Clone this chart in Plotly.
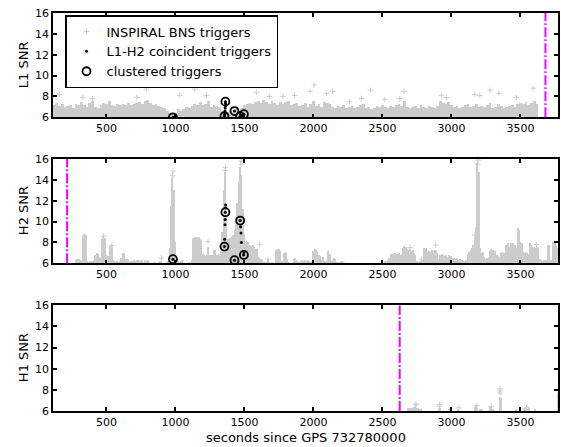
import numpy as np
import plotly.graph_objects as go

# ---------------- data ----------------
# L1 trigger envelope, 20 s bins starting at 120 s
l1_bin0, l1_step = 120, 20
l1_snr = [
    7.2, 7.4, 7.1, 7.3, 7.0, 7.1, 7.2, 6.9, 7.3, 7.2,
    7.5, 7.2, 7.0, 7.4, 7.6, 7.0, 6.9, 7.2, 7.4, 7.3,
    7.6, 7.2, 7.1, 7.3, 7.2, 7.3, 7.2, 7.4, 7.2, 7.3,
    7.4, 7.5, 7.3, 7.6, 7.7, 7.4, 7.2, 7.3, 7.1, 7.0,
    6.9, 6.6, 6.4, 6.3, 6.4, 6.8, 6.6, 6.8, 7.0, 6.9,
    7.1, 7.3, 7.2, 7.5, 7.2, 7.3, 7.6, 7.0, 7.2, 7.1,
    7.0, 6.6, 6.4, 6.5, 6.6, 6.5, 6.8, 6.6, 6.9, 7.2,
    7.3, 7.4, 7.3, 7.5, 7.6, 7.4, 7.7, 7.5, 7.3, 7.6,
    7.4, 7.2, 7.5, 7.3, 7.5, 7.6, 7.2, 7.3, 7.4, 7.1,
    7.2, 7.4, 7.0, 7.3, 7.6, 7.1, 7.3, 7.0, 7.5, 7.4,
    7.3, 7.0, 6.9, 7.1, 7.0, 7.2, 6.9, 7.0, 7.1, 6.9,
    7.0, 7.2, 7.3, 6.9, 7.0, 6.8, 6.9, 7.1, 7.0, 7.2,
    7.0, 6.9, 7.1, 7.0, 7.2, 7.3, 7.1, 7.6, 7.0, 6.9,
    7.0, 7.1, 6.9, 7.2, 7.0, 6.9, 7.1, 7.0, 6.9, 7.1,
    7.6, 7.4, 7.3, 7.5, 7.2, 7.0, 7.1, 6.9, 7.0, 7.2,
    7.3, 7.0, 7.1, 7.3, 7.0, 7.1, 7.0, 7.2, 7.4, 6.9,
    7.0, 7.3, 7.1, 6.9, 7.0, 7.1, 7.2, 7.0, 7.3, 7.4,
    7.3, 7.5, 7.2, 7.4, 7.6, 7.3,
]
l1_out_t = [161, 330, 400, 720, 789, 1031, 1140, 1225, 1586, 1680, 1780, 1864,
            1975, 2005, 2094, 2138, 2262, 2347, 2413, 2517, 2625, 2657, 2927,
            2963, 3170, 3205, 3280, 3343, 3470, 3592]
l1_out_snr = [8.2, 7.9, 7.8, 7.9, 8.7, 8.1, 8.7, 8.1, 8.4, 8.0, 8.0, 8.1,
              8.5, 9.1, 8.3, 8.5, 7.5, 7.8, 8.6, 7.7, 7.8, 8.5, 8.1,
              7.9, 8.2, 8.1, 8.6, 8.3, 7.9, 8.8]

# H2 trigger envelope, 10 s bins starting at 120 s
h2_bin0, h2_step = 120, 10
h2_snr = [
    6.0, 6.0, 6.0, 6.0, 6.0, 6.0, 6.0, 6.0, 6.0, 6.0, 6.0, 6.0, 6.0, 6.0, 6.0, 6.0, 6.3, 6.4, 6.4, 6.3,
    6.2, 8.6, 8.8, 8.7, 6.2, 6.1, 6.2, 6.1, 6.2, 6.3, 6.8, 7.0, 6.9, 6.6, 6.5, 8.3, 8.55, 8.4, 6.8, 6.7,
    6.5, 7.66, 7.6, 6.3, 6.2, 6.1, 6.2, 6.1, 6.2, 6.5, 7.0, 6.9, 6.4, 6.3, 6.4, 6.2, 6.1, 6.2, 6.3, 6.2,
    6.3, 6.1, 6.3, 6.2, 6.3, 6.1, 6.3, 6.2, 6.3, 6.1, 6.0, 6.0, 6.0, 6.1, 6.0, 6.0, 6.1, 6.2, 6.2, 6.0,
    6.0, 6.0, 6.1, 6.2, 7.5, 11.5, 14.3, 13.0, 8.0, 6.4, 6.2, 6.1, 6.2, 6.3, 6.0, 6.0, 6.0, 6.0, 6.1, 6.0,
    6.3, 8.4, 8.55, 8.5, 8.55, 8.5, 8.3, 8.2, 6.9, 6.8, 6.7, 6.8, 7.6, 6.8, 6.7, 6.8, 7.3, 7.3, 6.8, 6.8,
    6.9, 7.2, 9.0, 13.0, 14.8, 10.5, 8.3, 8.2, 8.4, 8.5, 8.7, 9.3, 10.0, 11.8, 13.8, 15.2, 14.5, 11.2, 8.8, 8.1,
    8.0, 8.0, 7.75, 7.7, 7.75, 7.6, 7.4, 7.4, 6.6, 6.5, 6.4, 6.3, 6.1, 6.1, 6.1, 6.4, 6.1, 6.0, 6.1, 6.0,
    6.0, 7.3, 7.4, 7.4, 7.2, 6.2, 6.1, 7.0, 7.05, 6.4, 6.1, 6.0, 6.0, 6.1, 6.4, 6.5, 6.3, 6.0, 6.1, 6.2,
    6.3, 6.2, 6.3, 6.2, 6.3, 6.2, 6.1, 6.2, 7.2, 7.4, 7.3, 7.1, 6.8, 6.7, 6.3, 6.6, 6.2, 6.1, 6.2, 7.2,
    6.9, 6.2, 6.3, 6.5, 6.4, 6.1, 6.0, 6.1, 6.2, 6.2, 6.1, 6.0, 6.0, 6.0, 6.0, 6.0, 6.0, 6.0, 6.0, 6.0,
    6.0, 6.0, 6.0, 6.0, 6.0, 6.0, 6.0, 6.0, 6.0, 6.0, 6.0, 6.0, 6.0, 6.0, 6.0, 6.0, 6.0, 6.0, 6.0, 6.1,
    6.2, 6.2, 6.3, 6.5, 6.9, 6.6, 6.9, 7.0, 6.8, 6.9, 7.0, 6.8, 6.9, 7.5, 7.7, 7.6, 7.4, 7.3, 7.4, 7.2,
    7.3, 7.0, 6.8, 6.2, 6.1, 6.2, 6.1, 6.3, 7.5, 7.4, 7.5, 7.1, 7.2, 7.1, 7.3, 7.2, 7.3, 7.2, 7.0, 6.4,
    6.8, 6.9, 6.8, 6.7, 6.8, 6.6, 6.8, 6.7, 6.7, 6.5, 6.5, 6.4, 6.5, 6.3, 6.4, 6.2, 6.3, 6.2, 6.1, 6.3,
    6.9, 7.1, 7.3, 7.5, 7.8, 8.4, 9.5, 15.6, 14.8, 7.5, 7.0, 7.1, 6.6, 6.4, 6.5, 6.6, 7.3, 7.4, 7.3, 7.2,
    7.2, 6.8, 6.7, 6.6, 7.0, 7.1, 7.0, 6.8, 7.8, 7.9, 7.6, 7.9, 7.7, 7.9, 7.8, 7.5, 9.35, 9.2, 8.0, 7.9,
    7.1, 7.0, 7.1, 7.0, 6.9, 7.9, 7.8, 7.6, 7.6, 7.5, 7.6, 7.5, 6.4, 6.3, 6.2, 6.3, 6.2, 6.3, 7.7, 7.8,
    6.3, 6.2, 8.0, 7.9, 7.8, 7.5,
]
h2_out_t = [983, 980, 1362, 1360, 1473, 1475, 3193, 3190, 1236, 898, 2886, 2700,
            3616, 3169, 1671, 1610, 540, 480, 2785]
h2_out_snr = [14.85, 14.4, 15.2, 14.9, 15.8, 15.5, 15.9, 15.5, 8.1, 6.5, 7.75, 7.5,
              7.8, 8.7, 6.4, 7.8, 7.7, 8.6, 6.4]

# H1 triggers (sparse), 10 s bins
h1_t = [2690, 2700, 2710, 2720, 2730, 2740, 2750, 2760, 2770, 2780, 2910, 2920,
        2980, 3050, 3170, 3180, 3190, 3210, 3220, 3280, 3290, 3300, 3350, 3360,
        3470, 3530, 3540, 3550, 3560, 3610, 3770]
h1_snr = [6.3, 6.3, 6.25, 6.3, 6.35, 6.4, 6.3, 6.3, 6.15, 6.15, 6.3, 6.25,
          6.15, 6.2, 6.35, 6.4, 6.3, 6.15, 6.1, 6.4, 6.35, 6.15, 7.3, 7.2,
          6.15, 6.25, 6.3, 6.2, 6.3, 6.1, 7.65]
h1_step = 10
h1_out_t = [2740, 2745, 2915, 2912, 3055, 3185, 3352, 3352, 3352, 3290, 3545]
h1_out_snr = [6.6, 6.65, 6.6, 6.45, 6.3, 6.5, 7.7, 8.1, 7.9, 6.45, 6.35]

# L1-H2 coincident triggers
coinc_t = [982, 1355, 1357, 1359, 1360, 1362, 1363, 1364, 1428, 1469, 1472, 1475, 1478, 1494, 1496]
coinc_l1 = [6.0, 6.1, 6.3, 6.6, 6.9, 7.5, 7.3, 7.1, 6.6, 6.1, 6.15, 6.2, 6.1, 6.3, 6.25]
coinc_h2 = [6.4, 7.6, 8.3, 9.7, 10.2, 10.9, 11.3, 11.6, 6.3, 10.1, 9.5, 8.9, 8.0, 6.8, 7.0]

# clustered triggers
clust_t = [982, 1355, 1362, 1428, 1469, 1496]
clust_l1 = [6.0, 6.1, 7.5, 6.6, 6.1, 6.3]
clust_h2 = [6.4, 7.6, 10.9, 6.3, 10.1, 6.8]

# marker times (magenta dash-dot lines)
mark_l1, mark_h2, mark_h1 = 3681, 215, 2625

x_range = [113, 3772]
y_range = [6, 16]
x_ticks = [500, 1000, 1500, 2000, 2500, 3000, 3500]
y_ticks = [6, 8, 10, 12, 14, 16]

# ---------------- figure ----------------
GRAY = "#cccccc"
FONT = "DejaVu Sans"
fig = go.Figure()

def bars(t, snr, width, xa, ya):
    snr = np.asarray(snr, float)
    fig.add_trace(go.Bar(x=t, y=snr - 6, base=6, width=width,
                         marker=dict(color=GRAY, line=dict(width=0)),
                         showlegend=False, hoverinfo="skip", xaxis=xa, yaxis=ya))

l1_t = l1_bin0 + l1_step * np.arange(len(l1_snr))
h2_t = h2_bin0 + h2_step * np.arange(len(h2_snr))

bars(l1_t, l1_snr, l1_step, "x", "y")
bars(h2_t, h2_snr, h2_step, "x2", "y2")
bars(h1_t, h1_snr, h1_step, "x3", "y3")

def outl(t, s, xa, ya, leg):
    fig.add_trace(go.Scatter(x=t, y=s, mode="markers", name="INSPIRAL BNS triggers",
                             marker=dict(symbol="cross-thin", size=4, color=GRAY,
                                         line=dict(color=GRAY, width=1)),
                             showlegend=leg, xaxis=xa, yaxis=ya, legendrank=1))

outl(l1_out_t, l1_out_snr, "x", "y", True)
outl(h2_out_t, h2_out_snr, "x2", "y2", False)
outl(h1_out_t, h1_out_snr, "x3", "y3", False)

for tm, xa, ya in [(mark_l1, "x", "y"), (mark_h2, "x2", "y2"), (mark_h1, "x3", "y3")]:
    fig.add_trace(go.Scatter(x=[tm, tm], y=y_range, mode="lines",
                             line=dict(color="#ff00ff", width=2, dash="10px,2px,2px,2px"),
                             showlegend=False, hoverinfo="skip", xaxis=xa, yaxis=ya))

for vals, xa, ya, leg in [(coinc_l1, "x", "y", True), (coinc_h2, "x2", "y2", False)]:
    fig.add_trace(go.Scatter(x=coinc_t, y=vals, mode="markers", name="L1-H2 coincident triggers",
                             marker=dict(symbol="circle", size=3, color="black"),
                             showlegend=leg, xaxis=xa, yaxis=ya, legendrank=2))
for vals, xa, ya, leg in [(clust_l1, "x", "y", True), (clust_h2, "x2", "y2", False)]:
    fig.add_trace(go.Scatter(x=clust_t, y=vals, mode="markers", name="clustered triggers",
                             marker=dict(symbol="circle-open", size=8, color="black",
                                         line=dict(color="black", width=1.8)),
                             showlegend=leg, xaxis=xa, yaxis=ya, legendrank=3))

W, H = 561, 447
ml, mr, mt, mb = 53, 3, 13, 36
pw, ph = W - ml - mr, H - mt - mb

def dom(top_px, bot_px):
    return [max(0, 1 - (bot_px - mt) / ph), min(1, 1 - (top_px - mt) / ph)]

ax_common = dict(showline=True, linecolor="black", linewidth=1.6, mirror="ticks",
                 ticks="inside", ticklen=4, tickwidth=1.5, tickcolor="black",
                 showgrid=False, zeroline=False, automargin=False,
                 tickfont=dict(family=FONT, size=11, color="black"))
xa = dict(ax_common, range=x_range, tickvals=x_ticks)
ya = dict(ax_common, range=y_range, tickvals=y_ticks)

fig.update_layout(
    width=W, height=H,
    margin=dict(l=ml, r=mr, t=mt, b=mb, autoexpand=False),
    plot_bgcolor="white", paper_bgcolor="white",
    barmode="overlay", bargap=0,
    font=dict(family=FONT, color="black"),
    xaxis=dict(xa, anchor="y", domain=[0, 1]),
    yaxis=dict(ya, anchor="x", domain=dom(13, 117.3)),
    xaxis2=dict(xa, anchor="y2", domain=[0, 1]),
    yaxis2=dict(ya, anchor="x2", domain=dom(159, 263.3)),
    xaxis3=dict(xa, anchor="y3", domain=[0, 1]),
    yaxis3=dict(ya, anchor="x3", domain=dom(305.3, 411)),
    legend=dict(x=(65 - ml) / pw, y=1 - (15 - mt) / ph, xanchor="left", yanchor="top",
                bgcolor="white", bordercolor="black", borderwidth=1.5,
                font=dict(family=FONT, size=13, color="black"),
                tracegroupgap=0),
    showlegend=True,
)

tfont = dict(family=FONT, size=13, color="black")
for name, yref in [("L1 SNR", "y domain"), ("H2 SNR", "y2 domain"), ("H1 SNR", "y3 domain")]:
    fig.add_annotation(text=name, textangle=-90, xref="paper", x=(23 - ml) / pw,
                       yref=yref, y=0.5, xanchor="center", yanchor="middle",
                       showarrow=False, font=tfont)
fig.add_annotation(text="seconds since GPS 732780000", xref="paper", x=(306 - ml) / pw,
                   yref="paper", y=-(438 - (H - mb)) / ph, xanchor="center", yanchor="middle",
                   showarrow=False, font=tfont)

fig.write_html("out.html", config={"displayModeBar": False},
               post_script="document.body.style.margin='0';document.body.style.overflow='hidden';")
